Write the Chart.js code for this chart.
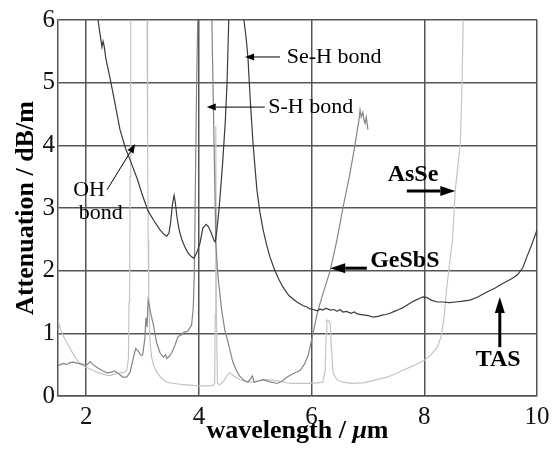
<!DOCTYPE html>
<html>
<head>
<meta charset="utf-8">
<script src="https://cdn.jsdelivr.net/npm/chart.js@4.4.1/dist/chart.umd.min.js"></script>
<style>
  html, body { margin: 0; padding: 0; background: #fff; }
</style>
</head>
<body>
<canvas id="chart" width="557" height="457"></canvas>
<script>
// 坐标刻度
const xTicks = [2, 4, 6, 8, 10];
const yTicks = [0, 1, 2, 3, 4, 5, 6];

// TAS 光纤 (深灰)
const tasWl = [2.19, 2.21, 2.25, 2.28, 2.30, 2.32, 2.35, 2.42, 2.50, 2.60, 2.70, 2.80, 2.90, 3.00, 3.10, 3.20, 3.31, 3.38, 3.43, 3.47,
  3.50, 3.53, 3.56, 3.58, 3.61, 3.65, 3.70, 3.76, 3.81, 3.87, 3.91, 3.96, 4.02, 4.07, 4.13, 4.17, 4.22, 4.27, 4.29, 4.32,
  4.36, 4.42, 4.47, 4.50, 4.53, 4.55, 4.77, 4.80, 4.84, 4.87, 4.91, 4.96, 5.00, 5.03, 5.08, 5.14, 5.20, 5.26, 5.35, 5.42,
  5.49, 5.60, 5.74, 5.85, 5.92, 5.97, 6.03, 6.10, 6.15, 6.20, 6.26, 6.33, 6.40, 6.45, 6.50, 6.56, 6.62, 6.70, 6.76, 6.81,
  6.88, 6.95, 7.02, 7.09, 7.18, 7.25, 7.32, 7.39, 7.47, 7.55, 7.62, 7.69, 7.78, 7.85, 7.92, 7.98, 8.05, 8.12, 8.23, 8.33,
  8.45, 8.55, 8.65, 8.81, 8.95, 9.11, 9.25, 9.40, 9.55, 9.65, 9.75, 9.82, 9.90, 10.0];
const tasAtt = [6.3, 6.0, 5.75, 5.57, 5.66, 5.58, 5.38, 5.09, 4.72, 4.25, 3.95, 3.72, 3.48, 3.2, 2.95, 2.8, 2.65, 2.58, 2.55, 2.6,
  2.78, 3.05, 3.2, 3.1, 2.86, 2.65, 2.49, 2.36, 2.28, 2.22, 2.2, 2.28, 2.44, 2.68, 2.74, 2.7, 2.6, 2.48, 2.46, 2.65,
  3.0, 3.7, 4.4, 5.0, 6.0, 6.4, 6.4, 6.0, 5.7, 5.41, 4.75, 4.04, 3.6, 3.29, 2.95, 2.65, 2.42, 2.22, 2.0, 1.86,
  1.74, 1.6, 1.5, 1.44, 1.42, 1.39, 1.38, 1.36, 1.39, 1.37, 1.40, 1.37, 1.38, 1.35, 1.38, 1.34, 1.35, 1.32, 1.34, 1.31,
  1.30, 1.29, 1.28, 1.26, 1.27, 1.29, 1.30, 1.32, 1.35, 1.38, 1.41, 1.45, 1.50, 1.53, 1.56, 1.58, 1.57, 1.53, 1.50, 1.50,
  1.49, 1.50, 1.51, 1.53, 1.58, 1.66, 1.72, 1.80, 1.87, 1.93, 2.05, 2.22, 2.40, 2.65];

// GeSbS 光纤 (中灰)
const gesbsWl = [1.50, 1.54, 1.60, 1.65, 1.70, 1.77, 1.85, 1.92, 2.00, 2.04, 2.07, 2.12, 2.20, 2.30, 2.37, 2.45, 2.50, 2.55, 2.60, 2.65,
  2.72, 2.78, 2.84, 2.88, 2.92, 2.97, 3.00, 3.04, 3.06, 3.08, 3.10, 3.12, 3.15, 3.19, 3.25, 3.31, 3.37, 3.41, 3.43, 3.47,
  3.52, 3.58, 3.63, 3.68, 3.74, 3.80, 3.87, 3.90, 3.92, 3.94, 3.96, 3.98, 4.00, 4.21, 4.23, 4.26, 4.29, 4.30, 4.34, 4.40,
  4.46, 4.52, 4.60, 4.66, 4.72, 4.80, 4.87, 4.92, 4.95, 4.98, 5.05, 5.14, 5.25, 5.39, 5.48, 5.56, 5.68, 5.80, 5.88, 5.94,
  6.00, 6.10, 6.20, 6.33, 6.45, 6.56, 6.68, 6.76, 6.81, 6.84, 6.86, 6.88, 6.91, 6.93, 6.95, 6.97, 7.00];
const gesbsAtt = [0.48, 0.5, 0.52, 0.5, 0.53, 0.54, 0.52, 0.51, 0.49, 0.52, 0.55, 0.5, 0.45, 0.4, 0.37, 0.38, 0.4, 0.37, 0.34, 0.3,
  0.3, 0.38, 0.62, 0.76, 0.72, 0.65, 0.65, 0.9, 1.25, 1.1, 1.53, 1.45, 1.3, 1.15, 0.85, 0.69, 0.62, 0.66, 0.6, 0.63,
  0.69, 0.82, 0.95, 0.97, 1.02, 1.03, 1.13, 1.4, 2.0, 3.5, 5.0, 6.0, 6.5, 6.5, 6.0, 4.5, 3.0, 2.44, 1.9, 1.4,
  1.05, 0.85, 0.55, 0.42, 0.32, 0.25, 0.22, 0.28, 0.32, 0.22, 0.24, 0.26, 0.23, 0.2, 0.24, 0.3, 0.36, 0.41, 0.52, 0.65,
  0.89, 1.32, 1.63, 2.0, 2.49, 3.02, 3.55, 3.95, 4.24, 4.4, 4.56, 4.45, 4.53, 4.4, 4.35, 4.45, 4.25];

// AsSe 光纤 (浅灰)
const asseWl = [1.50, 1.55, 1.60, 1.66, 1.75, 1.84, 1.92, 2.00, 2.10, 2.19, 2.30, 2.37, 2.45, 2.50, 2.60, 2.68, 2.72, 2.75, 2.76, 2.77,
  2.78, 2.79, 2.80, 3.07, 3.08, 3.09, 3.10, 3.11, 3.13, 3.16, 3.20, 3.26, 3.34, 3.43, 3.55, 3.72, 3.90, 4.02, 4.15, 4.25,
  4.28, 4.29, 4.30, 4.31, 4.33, 4.37, 4.45, 4.50, 4.55, 4.62, 4.73, 4.85, 4.96, 5.10, 5.21, 5.40, 5.62, 5.80, 5.97, 6.10,
  6.20, 6.24, 6.26, 6.27, 6.30, 6.33, 6.35, 6.38, 6.45, 6.56, 6.70, 6.91, 7.10, 7.34, 7.50, 7.62, 7.80, 8.00, 8.12, 8.23,
  8.30, 8.35, 8.40, 8.46, 8.50, 8.55, 8.60, 8.64, 8.67, 8.69, 8.71];
const asseAtt = [1.21, 1.05, 0.95, 0.85, 0.7, 0.57, 0.5, 0.46, 0.42, 0.38, 0.35, 0.33, 0.33, 0.35, 0.37, 0.38, 0.41, 0.6, 1.5, 1.55,
  3.5, 6.0, 6.5, 6.5, 6.0, 4.0, 2.5, 1.6, 0.9, 0.62, 0.48, 0.37, 0.28, 0.22, 0.2, 0.18, 0.17, 0.16, 0.16, 0.17,
  0.2, 1.3, 4.3, 1.3, 0.2, 0.18, 0.25, 0.33, 0.37, 0.32, 0.26, 0.23, 0.22, 0.25, 0.26, 0.24, 0.2, 0.2, 0.2, 0.21,
  0.22, 0.4, 1.0, 1.21, 1.2, 1.16, 0.8, 0.37, 0.26, 0.22, 0.2, 0.21, 0.25, 0.3, 0.36, 0.41, 0.48, 0.57, 0.66, 0.78,
  0.95, 1.25, 1.74, 2.2, 2.49, 3.29, 3.7, 4.03, 5.0, 6.0, 6.5];

const serif = '"Liberation Serif", "Times New Roman", serif';

function toPoints(xs, ys) {
  return xs.map((v, i) => ({ x: v, y: ys[i] }));
}

// 画箭头
function arrow(ctx, x1, y1, x2, y2, lw, hl, hw) {
  const a = Math.atan2(y2 - y1, x2 - x1);
  const bx = x2 - hl * Math.cos(a), by = y2 - hl * Math.sin(a);
  ctx.lineWidth = lw;
  ctx.beginPath();
  ctx.moveTo(x1, y1);
  ctx.lineTo(bx, by);
  ctx.stroke();
  ctx.beginPath();
  ctx.moveTo(x2, y2);
  ctx.lineTo(bx + hw * Math.sin(a), by - hw * Math.cos(a));
  ctx.lineTo(bx - hw * Math.sin(a), by + hw * Math.cos(a));
  ctx.closePath();
  ctx.fill();
}

// 标注与横轴标题
const notePlugin = {
  id: 'notes',
  afterDraw(chart) {
    const { ctx, scales: { x, y } } = chart;
    const px = v => x.getPixelForValue(v);
    const py = v => y.getPixelForValue(v);
    ctx.save();
    ctx.fillStyle = '#000';
    ctx.strokeStyle = '#000';
    ctx.textBaseline = 'middle';

    // 细箭头
    ctx.font = '22px ' + serif;
    ctx.textAlign = 'left';
    arrow(ctx, px(5.44), py(5.41), px(4.82), py(5.41), 1, 9, 3.5);
    ctx.fillText('Se-H bond', px(5.56), py(5.41));
    arrow(ctx, px(5.17), py(4.61), px(4.14), py(4.61), 1, 9, 3.5);
    ctx.fillText('S-H bond', px(5.23), py(4.61));
    arrow(ctx, px(2.37), py(3.29), px(2.87), py(4.02), 1, 9, 3.5);
    ctx.fillText('OH', px(1.77), py(3.29));
    ctx.fillText('bond', px(1.87), py(2.92));

    // 粗箭头
    ctx.font = 'bold 24px ' + serif;
    ctx.textAlign = 'center';
    ctx.fillText('AsSe', px(7.8), py(3.53));
    arrow(ctx, px(7.69), py(3.27), px(8.55), py(3.27), 3, 15, 5);
    ctx.textAlign = 'left';
    ctx.fillText('GeSbS', px(7.04), py(2.15));
    arrow(ctx, px(6.98), py(2.04), px(6.33), py(2.04), 3, 15, 5);
    ctx.textAlign = 'center';
    ctx.fillText('TAS', px(9.31), py(0.57));
    arrow(ctx, px(9.34), py(0.78), px(9.34), py(1.58), 3, 16, 5);

    // 横轴标题 (μ 为斜体)
    const parts = [['wavelength / ', 'bold 26px ' + serif], ['\u03bc', 'italic bold 26px ' + serif], ['m', 'bold 26px ' + serif]];
    let total = 0;
    parts.forEach(p => { ctx.font = p[1]; total += ctx.measureText(p[0]).width; });
    let cx = (chart.chartArea.left + chart.chartArea.right) / 2 - total / 2;
    ctx.textAlign = 'left';
    ctx.textBaseline = 'alphabetic';
    parts.forEach(p => {
      ctx.font = p[1];
      ctx.fillText(p[0], cx, chart.chartArea.bottom + 42);
      cx += ctx.measureText(p[0]).width;
    });
    ctx.restore();
  }
};

const gridColor = '#555';

new Chart(document.getElementById('chart'), {
  type: 'line',
  data: {
    datasets: [
      { label: 'TAS', data: toPoints(tasWl, tasAtt), borderColor: '#3a3a3a', borderWidth: 1.2 },
      { label: 'GeSbS', data: toPoints(gesbsWl, gesbsAtt), borderColor: '#858585', borderWidth: 1.2 },
      { label: 'AsSe', data: toPoints(asseWl, asseAtt), borderColor: '#c4c4c4', borderWidth: 1.2 }
    ]
  },
  options: {
    responsive: false,
    animation: false,
    events: [],
    layout: { padding: { top: 20, right: 20, left: 0, bottom: 0 } },
    elements: { point: { radius: 0 }, line: { tension: 0 } },
    plugins: { legend: { display: false }, tooltip: { enabled: false } },
    scales: {
      x: {
        type: 'linear',
        min: 1.5,
        max: 10,
        afterBuildTicks: s => { s.ticks = xTicks.map(v => ({ value: v })); },
        afterFit: s => { s.height = 61; },
        grid: { color: gridColor, lineWidth: 1.5, drawTicks: false },
        border: { color: gridColor, width: 1.5 },
        ticks: { color: '#111', padding: 6, maxRotation: 0, font: { family: serif, size: 25 } }
      },
      y: {
        type: 'linear',
        min: 0,
        max: 6,
        afterBuildTicks: s => { s.ticks = yTicks.map(v => ({ value: v })); },
        afterFit: s => { s.width = 58; },
        grid: { color: gridColor, lineWidth: 1.5, drawTicks: false },
        border: { color: gridColor, width: 1.5 },
        ticks: { color: '#111', padding: 3, font: { family: serif, size: 25 } },
        title: {
          display: true,
          text: 'Attenuation / dB/m',
          color: '#000',
          padding: { top: 11, bottom: 0 },
          font: { family: serif, size: 26, weight: 'bold' }
        }
      }
    }
  },
  plugins: [notePlugin]
});
</script>
</body>
</html>
